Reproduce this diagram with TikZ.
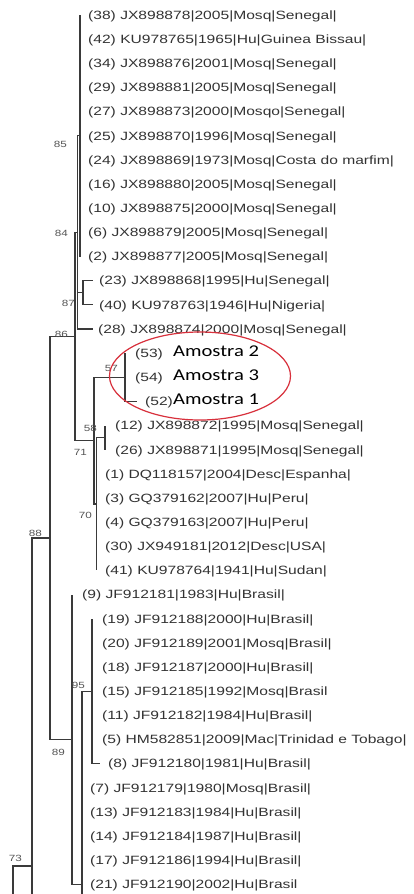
\documentclass[tikz,border=0pt]{standalone}
\usepackage{fontspec}
\setmainfont{Liberation Sans}
\newfontfamily\labfont[FakeStretch=1.3]{Liberation Sans}
\newfontfamily\amfont[FakeStretch=1.25]{Carlito}
\usetikzlibrary{shapes.geometric}
\definecolor{txt}{HTML}{333333}
\definecolor{treecol}{HTML}{3A3A3A}
\definecolor{bootcol}{HTML}{555555}
\definecolor{ellred}{HTML}{D8303C}
\tikzset{
  branch/.style={draw=treecol, line width=1.1pt},
  leaflab/.style={anchor=base west, inner sep=0pt, font=\labfont\fontsize{12}{12}\selectfont, text=txt},
  bootlab/.style={anchor=east, inner sep=0pt, font=\labfont\fontsize{9}{9}\selectfont, text=bootcol},
  amoslab/.style={anchor=base west, inner sep=0pt, font=\amfont\fontsize{16.5}{16.5}\selectfont, text=black},
}
\newcommand\mkleaf[5]{%
  \coordinate (#1) at (#2,{15+24.15*#4});
  \node[leaflab] (#1-t) at (#3,{15+24.15*#4+4.3}) {#5};}
\begin{document}
\begin{tikzpicture}[x=1pt,y=-1pt]
\fill[white] (0,0) rectangle (413,894);
\useasboundingbox (0,0) rectangle (413,894);

% internal nodes
\coordinate (b85) at (80,135.75);
\coordinate (b84) at (77.5,232.35);
\coordinate (b87) at (83,292.7);
\coordinate (b86) at (75,336.5);
\coordinate (b71) at (94,440.6);
\coordinate (b57) at (125,377.25);
\coordinate (b70) at (96.5,504.0);
\coordinate (b58) at (105,437.6);
\coordinate (b88) at (50,538);
\coordinate (b89) at (72,739.5);
\coordinate (b95) at (92,691.2);
\coordinate (bX) at (82,884.4);
\coordinate (bXend) at (82,894);
\coordinate (b73) at (32,866);
\coordinate (b73end) at (32,894);
\coordinate (broot) at (13,894);

% leaves
\mkleaf{l38}{80}{88}{0}{(38) JX898878|2005|Mosq|Senegal|}
\mkleaf{l42}{80}{88}{1}{(42) KU978765|1965|Hu|Guinea Bissau|}
\mkleaf{l34}{80}{88}{2}{(34) JX898876|2001|Mosq|Senegal|}
\mkleaf{l29}{80}{88}{3}{(29) JX898881|2005|Mosq|Senegal|}
\mkleaf{l27}{80}{88}{4}{(27) JX898873|2000|Mosqo|Senegal|}
\mkleaf{l25}{80}{88}{5}{(25) JX898870|1996|Mosq|Senegal|}
\mkleaf{l24}{80}{88}{6}{(24) JX898869|1973|Mosq|Costa do marfim|}
\mkleaf{l16}{80}{88}{7}{(16) JX898880|2005|Mosq|Senegal|}
\mkleaf{l10}{80}{88}{8}{(10) JX898875|2000|Mosq|Senegal|}
\mkleaf{l6}{80}{88}{9}{(6) JX898879|2005|Mosq|Senegal|}
\mkleaf{l2}{80}{88}{10}{(2) JX898877|2005|Mosq|Senegal|}
\mkleaf{l23}{93}{99}{11}{(23) JX898868|1995|Hu|Senegal|}
\mkleaf{l40}{93}{99}{12}{(40) KU978763|1946|Hu|Nigeria|}
\mkleaf{l28}{93}{98}{13}{(28) JX898874|2000|Mosq|Senegal|}
\mkleaf{l53}{125}{135}{14}{(53)}
\mkleaf{l54}{125}{135}{15}{(54)}
\mkleaf{l52}{137}{145}{16}{(52)}
\mkleaf{l12}{105}{115}{17}{(12) JX898872|1995|Mosq|Senegal|}
\mkleaf{l26}{105}{115}{18}{(26) JX898871|1995|Mosq|Senegal|}
\mkleaf{l1}{96.5}{105}{19}{(1) DQ118157|2004|Desc|Espanha|}
\mkleaf{l3}{96.5}{105}{20}{(3) GQ379162|2007|Hu|Peru|}
\mkleaf{l4}{96.5}{105}{21}{(4) GQ379163|2007|Hu|Peru|}
\mkleaf{l30}{96.5}{105}{22}{(30) JX949181|2012|Desc|USA|}
\mkleaf{l41}{96.5}{105}{23}{(41) KU978764|1941|Hu|Sudan|}
\mkleaf{l9}{72}{82}{24}{(9) JF912181|1983|Hu|Brasil|}
\mkleaf{l19}{92}{102}{25}{(19) JF912188|2000|Hu|Brasil|}
\mkleaf{l20}{92}{102}{26}{(20) JF912189|2001|Mosq|Brasil|}
\mkleaf{l18}{92}{102}{27}{(18) JF912187|2000|Hu|Brasil|}
\mkleaf{l15}{92}{102}{28}{(15) JF912185|1992|Mosq|Brasil}
\mkleaf{l11}{92}{102}{29}{(11) JF912182|1984|Hu|Brasil|}
\mkleaf{l5}{92}{102}{30}{(5) HM582851|2009|Mac|Trinidad e Tobago|}
\mkleaf{l8}{100}{108}{31}{(8) JF912180|1981|Hu|Brasil|}
\mkleaf{l7}{82}{90}{32}{(7) JF912179|1980|Mosq|Brasil|}
\mkleaf{l13}{82}{90}{33}{(13) JF912183|1984|Hu|Brasil|}
\mkleaf{l14}{82}{90}{34}{(14) JF912184|1987|Hu|Brasil|}
\mkleaf{l17}{82}{90}{35}{(17) JF912186|1994|Hu|Brasil|}
\mkleaf{l21}{82}{90}{36}{(21) JF912190|2002|Hu|Brasil}

% sample names
\node[amoslab] (am2) at (173,{15+24.15*14+3.5}) {Amostra 2};
\node[amoslab] (am3) at (173,{15+24.15*15+3.5}) {Amostra 3};
\node[amoslab] (am1) at (173,{15+24.15*16+3.5}) {Amostra 1};

% branches
\foreach \c in {l38,l42,l34,l29,l27,l25,l24,l16,l10,l6,l2}
  \draw[branch] (b85) |- (\c);
\draw[branch] (b84) |- (b85);
\draw[branch] (b84) |- (b87);
\draw[branch] (b84) |- (l28);
\draw[branch] (b87) |- (l23);
\draw[branch] (b87) |- (l40);
\draw[branch] (b86) |- (b84);
\draw[branch] (b86) |- (b71);
\draw[branch] (b71) |- (b57);
\draw[branch] (b71) |- (b70);
\foreach \c in {l53,l54,l52}
  \draw[branch] (b57) |- (\c);
\draw[branch] (b70) |- (b58);
\foreach \c in {l1,l3,l4,l30,l41}
  \draw[branch] (b70) |- (\c);
\draw[branch] (b58) |- (l12);
\draw[branch] (b58) |- (l26);
\draw[branch] (b88) |- (b86);
\draw[branch] (b88) |- (b89);
\draw[branch] (b89) |- (l9);
\draw[branch] (b89) |- (bX);
\draw[branch] (bX) |- (b95);
\draw[branch] (bX) -- (bXend);
\foreach \c in {l7,l13,l14,l17,l21}
  \draw[branch] (bX) |- (\c);
\foreach \c in {l19,l20,l18,l15,l11,l5,l8}
  \draw[branch] (b95) |- (\c);
\draw[branch] (b73) |- (b88);
\draw[branch] (b73) -- (b73end);
\draw[branch] (broot) |- (b73);

% bootstrap values
\node[bootlab] (s85) at (67,144) {85};
\node[bootlab] (s84) at (68,233) {84};
\node[bootlab] (s87) at (75,303) {87};
\node[bootlab] (s86) at (68,334) {86};
\node[bootlab] (s57) at (118,368) {57};
\node[bootlab] (s58) at (97,428) {58};
\node[bootlab] (s71) at (87,452) {71};
\node[bootlab] (s70) at (92,515) {70};
\node[bootlab] (s88) at (42,533) {88};
\node[bootlab] (s95) at (85,685) {95};
\node[bootlab] (s89) at (65,752) {89};
\node[bootlab] (s73) at (22,858) {73};

% highlight
\node[draw=ellred, line width=1.2pt, ellipse, inner sep=0pt, minimum width=181pt, minimum height=88pt] (oval) at (200,376) {};
\end{tikzpicture}
\end{document}
